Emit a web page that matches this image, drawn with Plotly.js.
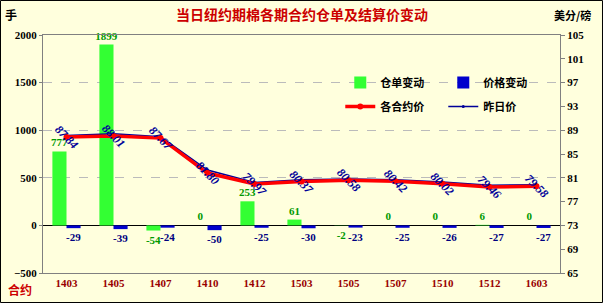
<!DOCTYPE html>
<html><head><meta charset="utf-8">
<script src="https://cdn.plot.ly/plotly-3.0.1.min.js"></script>
<style>html,body{margin:0;padding:0;background:#FFFFDD}</style>
</head><body><div id="c" style="width:603px;height:303px"></div>
<script>
const categories = ['1403','1405','1407','1410','1412','1503','1505','1507','1510','1512','1603'];
const warrantChange = [777, 1899, -54, 0, 253, 61, -2, 0, 0, 6, 0];
const priceChange = [-29, -39, -24, -50, -25, -30, -23, -25, -26, -27, -27];
const settlePrice = [87.84, 88.01, 87.67, 81.80, 79.97, 80.37, 80.58, 80.42, 80.02, 79.46, 79.58];
const prevPrice = [88.13, 88.40, 87.91, 82.30, 80.22, 80.67, 80.81, 80.67, 80.28, 79.73, 79.85];

const numFont = 'Liberation Serif, Noto Sans CJK SC';
const cjk = 'Noto Sans CJK SC';

const traces = [
  {type:'bar', name:'仓单变动', x:categories, y:warrantChange, yaxis:'y',
   marker:{color:'#33FF33', line:{width:0}}, text:warrantChange.map(String),
   textposition:'outside', cliponaxis:false, constraintext:'none',
   textfont:{family:numFont, size:11, color:'#009900', weight:'bold'}, legend:'legend'},
  {type:'bar', name:'价格变动', x:categories, y:priceChange, yaxis:'y',
   marker:{color:'#0000CC', line:{width:0}}, text:priceChange.map(String),
   textposition:'outside', cliponaxis:false, constraintext:'none',
   textfont:{family:numFont, size:11, color:'#000080', weight:'bold'}, legend:'legend'},
  {type:'scatter', mode:'lines+markers', name:'昨日价', x:categories, y:prevPrice, yaxis:'y2',
   line:{color:'#000099', width:1.5}, marker:{color:'#000099', size:3}, legend:'legend2', legendrank:2},
  {type:'scatter', mode:'lines+markers', name:'各合约价', x:categories, y:settlePrice, yaxis:'y2',
   line:{color:'#FF0000', width:3.5}, marker:{color:'#FF0000', size:6}, legend:'legend2', legendrank:1}
];

const annotations = settlePrice.map((p,i)=>({
  x:i, y:p, xref:'x', yref:'y2', text:p.toFixed(2), showarrow:false,
  textangle:45, font:{family:numFont, size:12, color:'#000099', weight:'bold', style:'italic'}
}));
annotations.push(
  {xref:'paper', yref:'paper', x:0.5, y:1.09, text:'当日纽约期棉各期合约仓单及结算价变动', showarrow:false,
   font:{family:cjk, size:14, color:'#CC0000', weight:'bold'}, xanchor:'center', yanchor:'middle'},
  {xref:'paper', yref:'paper', x:-0.062, y:1.085, text:'手', showarrow:false,
   font:{family:cjk, size:12, color:'#000000', weight:'bold'}, xanchor:'center', yanchor:'middle'},
  {xref:'paper', yref:'paper', x:1.025, y:1.085, text:'美分/磅', showarrow:false,
   font:{family:cjk, size:11, color:'#000000', weight:'bold'}, xanchor:'center', yanchor:'middle'},
  {xref:'paper', yref:'paper', x:-0.045, y:-0.07, text:'合约', showarrow:false,
   font:{family:cjk, size:12, color:'#CC0000', weight:'bold'}, xanchor:'center', yanchor:'middle'}
);

const layout = {
  width:603, height:303,
  margin:{l:43, r:43, t:35, b:30},
  paper_bgcolor:'#FFFFDD', plot_bgcolor:'#FFFFDD',
  barmode:'group', bargap:0.4, bargroupgap:0,
  showlegend:true,
  xaxis:{type:'category', range:[-0.5, categories.length-0.5], showline:true, linecolor:'#808080', mirror:true, ticks:'',
    tickfont:{family:numFont, size:11, color:'#990000', weight:'bold'}, showgrid:false, zeroline:false},
  yaxis:{range:[-500,2000], dtick:500, showgrid:true, gridcolor:'#BBBBBB', griddash:'dash', gridwidth:1,
    zeroline:true, zerolinecolor:'#000000', zerolinewidth:1, showline:true, linecolor:'#808080',
    ticks:'outside', ticklen:3, tickcolor:'#808080',
    tickfont:{family:numFont, size:11, color:'#000000', weight:'bold'}},
  yaxis2:{overlaying:'y', side:'right', range:[65,105], tick0:65, dtick:4, showgrid:false, zeroline:false,
    showline:true, linecolor:'#808080', ticks:'outside', ticklen:4, tickcolor:'#808080',
    tickfont:{family:numFont, size:11, color:'#000000', weight:'bold'}},
  legend:{orientation:'h', x:0.575, y:0.80, xanchor:'left', yanchor:'middle', bgcolor:'rgba(0,0,0,0)',
    font:{family:cjk, size:11, color:'#000000', weight:'bold'}, entrywidth:58, itemwidth:30},
  legend2:{orientation:'h', x:0.575, y:0.70, xanchor:'left', yanchor:'middle', bgcolor:'rgba(0,0,0,0)',
    font:{family:cjk, size:11, color:'#000000', weight:'bold'}, entrywidth:58, itemwidth:30},
  annotations:annotations,
  shapes:[{type:'rect', xref:'paper', yref:'paper', x0:-0.0822, x1:1.0822, y0:-0.124, y1:1.145,
    line:{color:'#000000', width:1}, fillcolor:'rgba(0,0,0,0)', layer:'above'}]
};
Plotly.newPlot('c', traces, layout, {displayModeBar:false, staticPlot:true});
</script></body></html>
